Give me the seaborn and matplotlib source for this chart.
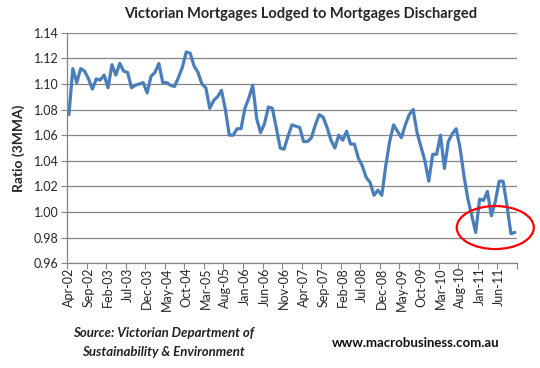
import numpy as np
import pandas as pd
import matplotlib
matplotlib.use("Agg")
import matplotlib.pyplot as plt
from matplotlib.patches import Ellipse
import seaborn as sns

sns.set_style("white")
plt.rcParams['font.family'] = ['Lato', 'DejaVu Sans']

# monthly ratio, Apr-02 .. Oct-11
ratio = [1.076, 1.112, 1.101, 1.112, 1.110, 1.104, 1.096, 1.104, 1.103, 1.107,
         1.097, 1.115, 1.107, 1.116, 1.110, 1.109, 1.097, 1.099, 1.100, 1.101,
         1.093, 1.106, 1.109, 1.116, 1.101, 1.101, 1.099, 1.098, 1.105, 1.113,
         1.125, 1.124, 1.114, 1.109, 1.100, 1.097, 1.081, 1.087, 1.090, 1.095,
         1.080, 1.060, 1.060, 1.065, 1.065, 1.081, 1.089, 1.099, 1.073, 1.062,
         1.069, 1.082, 1.081, 1.066, 1.050, 1.049, 1.059, 1.068, 1.067, 1.066,
         1.055, 1.055, 1.058, 1.068, 1.076, 1.074, 1.066, 1.056, 1.050, 1.060,
         1.056, 1.063, 1.053, 1.053, 1.042, 1.036, 1.027, 1.023, 1.013, 1.017,
         1.013, 1.036, 1.055, 1.068, 1.063, 1.058, 1.068, 1.076, 1.080, 1.062,
         1.051, 1.040, 1.024, 1.045, 1.045, 1.060, 1.034, 1.055, 1.061, 1.065,
         1.050, 1.028, 1.010, 0.997, 0.984, 1.010, 1.009, 1.016, 0.997, 1.008,
         1.024, 1.024, 1.005, 0.983, 0.984]

tick_labels = ['Apr-02', 'Sep-02', 'Feb-03', 'Jul-03', 'Dec-03', 'May-04',
               'Oct-04', 'Mar-05', 'Aug-05', 'Jan-06', 'Jun-06', 'Nov-06',
               'Apr-07', 'Sep-07', 'Feb-08', 'Jul-08', 'Dec-08', 'May-09',
               'Oct-09', 'Mar-10', 'Aug-10', 'Jan-11', 'Jun-11']
y_ticks = [0.96, 0.98, 1.00, 1.02, 1.04, 1.06, 1.08, 1.10, 1.12, 1.14]

df = pd.DataFrame({'month': np.arange(len(ratio)), 'ratio': ratio})

fig = plt.figure(figsize=(5.4, 3.68), dpi=100)
ax = fig.add_axes([0.124, 0.285, 0.833, 0.626])

sns.lineplot(data=df, x='month', y='ratio', ax=ax, color='#4A7EBB', linewidth=2.3)

n = len(ratio)
ax.set_xlim(-0.5, n - 0.5)
ax.set_ylim(0.96, 1.14)
ax.set_yticks(y_ticks)
ax.set_yticklabels(['%.2f' % v for v in y_ticks], fontsize=9)
ax.set_xticks(np.arange(-0.5, n, 5))
ax.set_xticklabels([])
ax.set_xticks(np.arange(0, n, 5)[:len(tick_labels)], minor=True)
ax.set_xticklabels(tick_labels, minor=True, rotation=90, fontsize=9)
ax.tick_params(axis='x', which='major', length=4, color='#868686', direction='out', bottom=True)
ax.tick_params(axis='x', which='minor', length=0, pad=3, bottom=True)
ax.tick_params(axis='y', length=4, color='#868686', direction='out', left=True, pad=2)

ax.grid(axis='y', color='#868686', linewidth=0.9)
ax.set_axisbelow(True)
for s in ['top', 'right']:
    ax.spines[s].set_visible(False)
for s in ['left', 'bottom']:
    ax.spines[s].set_color('#868686')
    ax.spines[s].set_linewidth(0.9)

ax.set_xlabel('')
ax.set_ylabel('Ratio (3MMA)', fontsize=10, fontweight='bold', labelpad=6)

ax.add_patch(Ellipse((109.0, 0.9878), 19.7, 0.0336, fill=False, edgecolor='red',
                     linewidth=1.6, clip_on=False, zorder=5))

fig.text(0.556, 0.962, 'Victorian Mortgages Lodged to Mortgages Discharged',
         ha='center', va='center', fontsize=10.5, fontweight='bold')
fig.text(0.302, 0.095, 'Source: Victorian Department of', ha='center', va='center',
         fontsize=9.5, fontweight='bold', style='italic', color='#222222')
fig.text(0.302, 0.043, 'Sustainability & Environment', ha='center', va='center',
         fontsize=9.5, fontweight='bold', style='italic', color='#222222')
fig.text(0.77, 0.068, 'www.macrobusiness.com.au', ha='center', va='center',
         fontsize=9.5, fontweight='bold', color='#111111')

fig.savefig('out.png', dpi=100)
